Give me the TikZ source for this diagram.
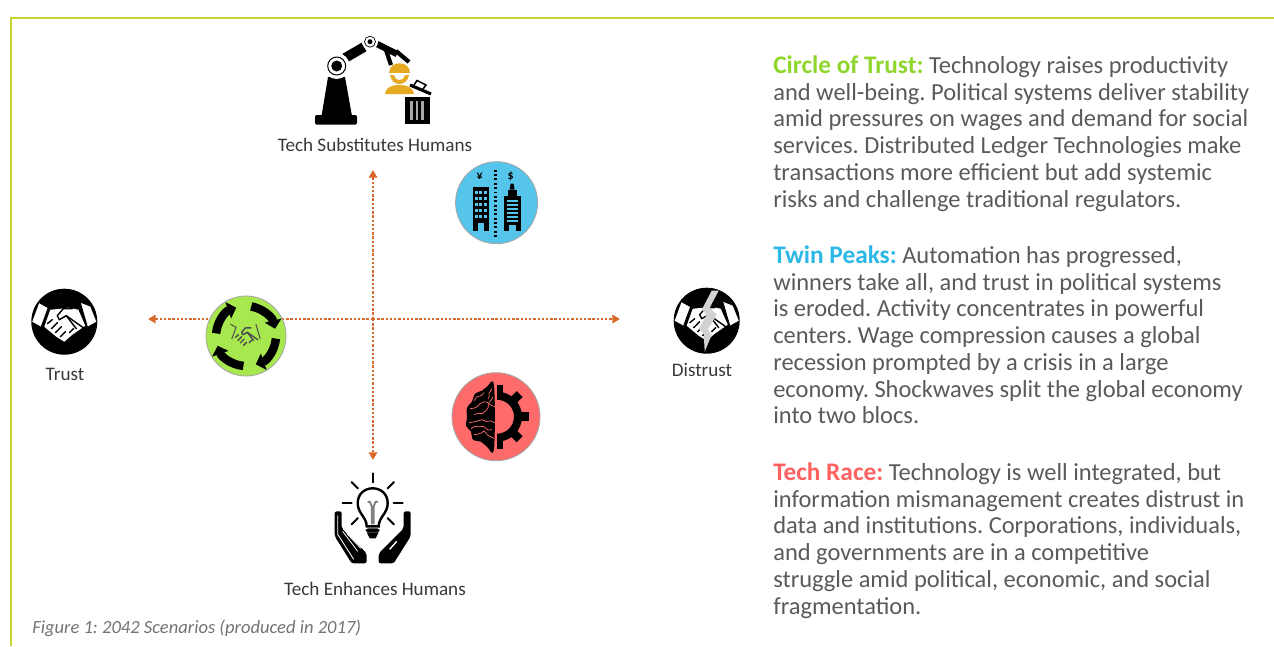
\documentclass[tikz,border=0pt]{standalone}
\usepackage{fontspec}
\usepackage{xcolor}
\setmainfont{Carlito}
\frenchspacing
\usetikzlibrary{positioning,calc,arrows.meta,decorations.pathmorphing}

\definecolor{framegreen}{HTML}{C6D232}
\definecolor{axisorange}{HTML}{D8692A}
\definecolor{circlegreen}{HTML}{A8E84F}
\definecolor{circleblue}{HTML}{55C5EC}
\definecolor{circlered}{HTML}{FF6B6B}
\definecolor{headgreen}{HTML}{8FD62C}
\definecolor{headblue}{HTML}{2CB8E6}
\definecolor{headred}{HTML}{FF6161}
\definecolor{bodygrey}{HTML}{5A5A5A}
\definecolor{workeryellow}{HTML}{E6A922}

\newcommand{\scenariohead}[2]{\textcolor{#1}{\fontsize{18}{19}\selectfont\textbf{#2}}}

\tikzset{
    axisline/.style={axisorange, line width=1.7pt, dash pattern=on 1.7pt off 1.3pt, -{Triangle[length=5.5pt,width=6pt,fill=axisorange]}},
    iconlabel/.style={text=black!78, font=\fontsize{13.6}{15}\selectfont},
    bodytext/.style={anchor=north west, align=left, inner sep=0pt, text=bodygrey, font=\fontsize{17.4}{19}\selectfont},
    badge/.style={circle, draw=gray!70, line width=0.6pt, minimum size=#1, inner sep=0pt},
    brainline/.style={circlered, line width=0.5pt, decorate, decoration={random steps, segment length=3pt, amplitude=1.1pt}},
    pics/handshake/.style 2 args={code={
        % cuffs
        \fill[#1] (-25,-19) -- (-16,-14) -- (-23,5) -- (-32,0) -- cycle;
        \fill[#1] (16,-19) -- (26,-15) -- (32,0) -- (23,5) -- cycle;
        % hands
        \fill[#1] (-14,-12) -- (-3,-13) -- (4,-14) -- (14,-12) -- (21,4) -- (8,13) -- (0,20) -- (-8,15) -- (-20,5) -- cycle;
        \draw[#2, line width=1pt, line cap=round, line join=round] (8,-13) -- (-1,-13) -- (-7,-6) -- (-5,-2) -- (2,-6) -- (19,6);
        \draw[#2, line width=1pt, line cap=round] (-17,2) -- (-12,-2) (-13,7) -- (-7,1) (-9,11) -- (-3,5) (-4,15) -- (1,10) (2,-6) -- (12,7) (5,11) -- (9,7);
        \draw[#2, line width=0.7pt] (-25,-19) -- (-16,-14) -- (-23,5) (16,-19) -- (23,5);
    }}
}

\begin{document}
\begin{tikzpicture}[x=0.025cm, y=-0.025cm]
    \useasboundingbox (0,0) rectangle (1274,646);

    % Frame
    \draw[framegreen, line width=1pt] (11,646) -- (11,18) -- (1274,18);

    % Axes
    \coordinate (centre) at (373,319);
    \coordinate (axistop) at (373,170);
    \coordinate (axisbottom) at (373,460);
    \coordinate (axisleft) at (148,319);
    \coordinate (axisright) at (620,319);
    \draw[axisline] (centre) -- (axistop);
    \draw[axisline] (centre) -- (axisbottom);
    \draw[axisline] (centre) -- (axisleft);
    \draw[axisline] (centre) -- (axisright);

    % Trust
    \begin{scope}[shift={(64.3,321.7)}]
        \fill[black] (0,0) circle (33);
        \pic {handshake={white}{black}};
    \end{scope}
    \node[iconlabel] (trust) at (65,374) {Trust};

    % Distrust
    \begin{scope}[shift={(706.7,320.7)}]
        \fill[black] (0,0) circle (33);
        \pic {handshake={white}{black}};
        \fill[gray!35] (5,-30) -- (12,-30) -- (3,-13) -- (10,-6) -- (1,9) -- (5,14) -- (-2,31) -- (-3,13) -- (-8,8) -- (0,-6) -- (-5,-11) -- cycle;
    \end{scope}
    \node[iconlabel] (distrust) at (702,370) {Distrust};

    % Tech Substitutes Humans
    \fill[black, rounded corners=1pt] (315,115) rectangle (357,124.5);
    \fill[black] (328,77) -- (345,77) -- (352,116) -- (321.5,116) -- cycle;
    \draw[black, line width=7pt] (345,58) -- (364,47);
    \draw[black, line width=4.5pt] (377,44) -- (397,54);
    \draw[black, line width=3pt] (386,50) -- (391,65);
    \draw[black, line width=3pt] (396,51) -- (409,62);
    \fill[white] (336.7,66) circle (13);
    \draw[black, line width=0.7pt] (336.7,66) circle (9);
    \fill[black] (336.7,66) circle (5.5);
    \fill[white] (370,41.7) circle (8);
    \draw[black, line width=0.5pt] (370,41.7) circle (5.5);
    \fill[black] (370,41.7) circle (2.5);
    % worker
    \fill[workeryellow] (389,73) .. controls (389,60) and (410,60) .. (410,73) -- cycle;
    \fill[workeryellow] (390,75) .. controls (392,87) and (407,87) .. (409,75) -- (405,75) .. controls (403,82) and (396,82) .. (394,75) -- cycle;
    \fill[workeryellow] (385,94) .. controls (386,87) and (392,85) .. (399,85) .. controls (407,85) and (413,87) .. (414,94) -- cycle;
    % bin
    \fill[black] (405,97) rectangle (429.5,124);
    \foreach \binx in {410,415.5,421}
        \fill[gray!70] (\binx,101) rectangle (\binx+2.6,120);
    \draw[black, line width=2.2pt] (410,85) -- (431,94);
    \draw[black, line width=1.1pt] (414,85) -- (417,80.5) -- (426,85) -- (423,89);
    \node[iconlabel] (substitutes) at (375,145) {Tech Substitutes Humans};

    % Tech Enhances Humans
    \begin{scope}[shift={(372.7,503.3)}]
        \foreach \rayangle in {0,180,-90,-45,-135,45,135}
            \draw[black, line width=1.4pt, line cap=round] (\rayangle:21) -- (\rayangle:30);
        \draw[black, line width=1.7pt] (-6,23) .. controls (-6,14) and (-15,10) .. (-15,0) .. controls (-15,-20) and (15,-20) .. (15,0) .. controls (15,10) and (6,14) .. (6,23) -- cycle;
        \draw[gray, line width=1.3pt] (-3,-2) -- (-1,3) -- (-1,21) (3,-2) -- (1,3) -- (1,21) (-3,-2) -- (-5,-1) (3,-2) -- (5,-1);
        \fill[black, rounded corners=2pt] (-7,25) rectangle (7,29);
        \fill[black] (-6,29) -- (6,29) -- (3,35) -- (-3,35) -- cycle;
        % hands
        \fill[black, rounded corners=1.5pt] (-38,8) -- (-31,8) -- (-31,25) -- (-6,50) -- (-6,60) -- (-21,60) -- (-38,33) -- cycle;
        \fill[black, rounded corners=1.5pt] (38,8) -- (31,8) -- (31,25) -- (6,50) -- (6,60) -- (21,60) -- (38,33) -- cycle;
        \draw[white, line width=0.6pt] (-35,12) -- (-35,31) -- (-19,56) (-26,30) -- (-12,45) (-30,28) -- (-15,48);
        \draw[white, line width=1pt] (24,38) -- (17,46);
    \end{scope}
    \node[iconlabel] (enhances) at (375,589) {Tech Enhances Humans};

    % Circle of Trust badge
    \node[badge=2cm, fill=circlegreen] (greenbadge) at (246,336) {};
    \begin{scope}[shift={(246,336)}]
        \foreach \arcstart in {-80,5,95,185}
            \draw[black, line width=6pt, -{Triangle[length=6pt,width=12pt]}] (\arcstart:30) arc (\arcstart:\arcstart+66:30);
        \pic[scale=0.62] {handshake={circlegreen}{black!70}};
    \end{scope}

    % Twin Peaks badge
    \node[badge=2.05cm, fill=circleblue] (bluebadge) at (496.6,202.7) {};
    \begin{scope}[shift={(496.6,202.7)}]
        \draw[black, line width=1.9pt, dash pattern=on 1.4pt off 1.7pt] (-1,-33) -- (-1,36);
        \node[font=\bfseries\fontsize{8.5}{8}\selectfont, inner sep=0pt] (yen) at (-17,-26) {¥};
        \node[font=\bfseries\fontsize{8.5}{8}\selectfont, inner sep=0pt] (dollar) at (14,-26) {\$};
        % left tower
        \fill[black] (-24,-16) rectangle (-8,28);
        \foreach \winy in {-12,-6,0,6,12}
            \foreach \winx in {-22,-17.5,-13}
                \fill[circleblue] (\winx,\winy) rectangle (\winx+3.2,\winy+3.4);
        \fill[circleblue] (-19,20) rectangle (-13,28);
        % right tower
        \fill[black] (7,-7) rectangle (24,28);
        \fill[black] (11,-13) rectangle (20,-7);
        \fill[black] (14,-19) -- (17,-19) -- (18,-13) -- (13,-13) -- cycle;
        \foreach \winy in {-3,1,5,9,13,17}
            \fill[circleblue] (10,\winy) rectangle (21,\winy+2);
        \fill[circleblue] (12,22) rectangle (19,28);
    \end{scope}

    % Tech Race badge
    \node[badge=2.2cm, fill=circlered] (redbadge) at (496,416.7) {};
    \begin{scope}[shift={(496,416.7)}]
        % brain
        \fill[black] plot[smooth cycle, tension=0.6] coordinates {(-2,-31) (-9,-30) (-14,-26) (-21,-23) (-24,-15) (-29,-9) (-29,2) (-30,9) (-25,15) (-23,23) (-15,25) (-9,30) (-2,32)};
        \pgfmathsetseed{7}
        \draw[brainline] (-1,-10) -- (-12,-15) -- (-26,-8);
        \draw[brainline] (-1,6) -- (-14,3) -- (-27,6);
        \draw[brainline] (-4,-28) -- (-8,-18);
        \draw[brainline] (-2,22) -- (-12,14) -- (-22,18);
        \draw[brainline] (-22,-16) -- (-12,-24);
        \draw[brainline] (-3,-20) -- (-10,-6) -- (-22,-2);
        \draw[brainline] (-4,13) -- (-16,10) -- (-25,12);
        % gear
        \fill[black] (1,-25) arc (-90:90:25) -- (1,17) arc (90:-90:17) -- cycle;
        \foreach \toothangle in {-45,0,45}
            \draw[black, line width=6pt] ($(1,0)+(\toothangle:22)$) -- ($(1,0)+(\toothangle:32)$);
        \fill[black] (1,-32) rectangle (7,-22);
        \fill[black] (1,22) rectangle (7,32);
    \end{scope}

    % Text column
    \node[bodytext] (circletext) at (773,55.5) {\scenariohead{headgreen}{Circle of Trust:} Technology raises productivity\\and well-being. Political systems deliver stability\\amid pressures on wages and demand for social\\services. Distributed Ledger Technologies make\\transactions more efficient but add systemic\\risks and challenge traditional regulators.};
    \node[bodytext] (twintext) at (773,245.5) {\scenariohead{headblue}{Twin Peaks:} Automation has progressed,\\winners take all, and trust in political systems\\is eroded. Activity concentrates in powerful\\centers. Wage compression causes a global\\recession prompted by a crisis in a large\\economy. Shockwaves split the global economy\\into two blocs.};
    \node[bodytext] (racetext) at (773,462.5) {\scenariohead{headred}{Tech Race:} Technology is well integrated, but\\information mismanagement creates distrust in\\data and institutions. Corporations, individuals,\\and governments are in a competitive\\struggle amid political, economic, and social\\fragmentation.};

    % Caption
    \node[anchor=west, inner sep=0pt, text=black!55, font=\itshape\fontsize{13.2}{15}\selectfont] (caption) at (32,628) {Figure 1: 2042 Scenarios (produced in 2017)};
\end{tikzpicture}
\end{document}
